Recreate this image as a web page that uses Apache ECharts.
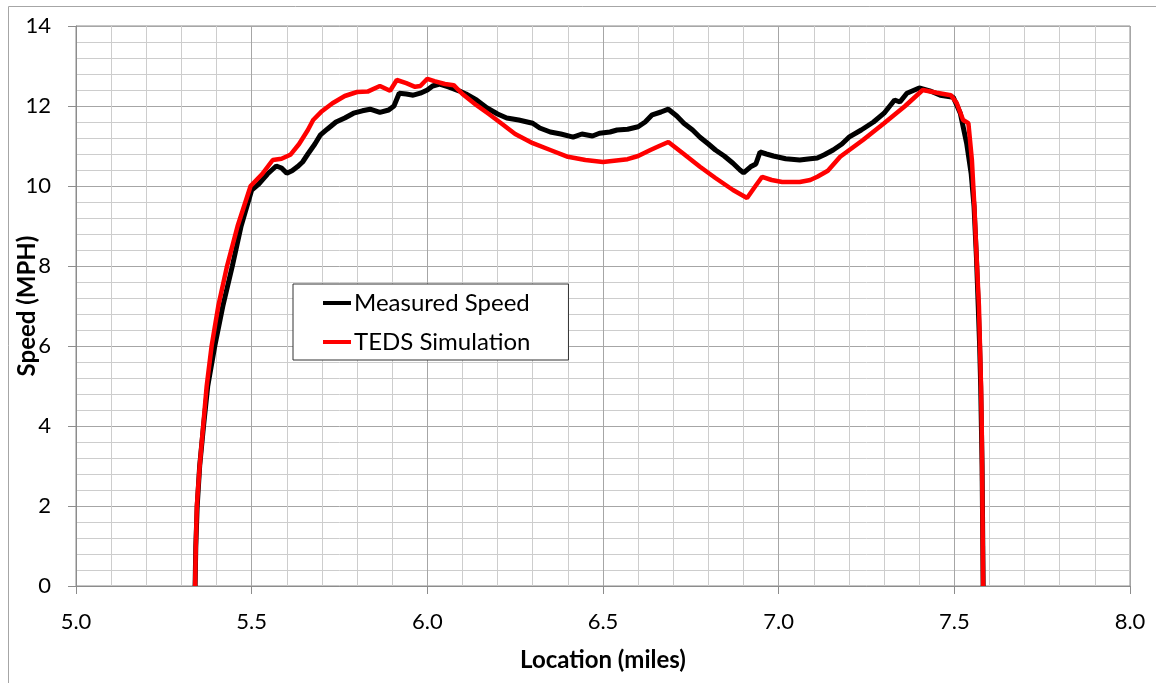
<!DOCTYPE html>
<html>
<head>
<meta charset="utf-8">
<script src="https://cdn.jsdelivr.net/npm/echarts@6/dist/echarts.min.js"></script>
<style>
html,body{margin:0;padding:0;background:#fff;}
#chart{width:1156px;height:683px;}
</style>
</head>
<body>
<div id="chart"></div>
<script>
var seriesNames = ['Measured Speed', 'TEDS Simulation'];
var xTicks = [5.0, 5.5, 6.0, 6.5, 7.0, 7.5, 8.0];
var yTicks = [0, 2, 4, 6, 8, 10, 12, 14];

var measuredLoc = [5.339,5.341,5.345,5.352,5.363,5.375,5.395,5.418,5.445,5.470,5.50,5.52,5.545,5.57,5.585,5.60,5.615,5.63,5.645,5.66,5.68,5.695,5.715,5.74,5.765,5.79,5.815,5.837,5.865,5.89,5.905,5.92,5.94,5.96,5.98,6.0,6.015,6.035,6.06,6.09,6.11,6.14,6.17,6.2,6.226,6.26,6.30,6.32,6.35,6.38,6.415,6.44,6.47,6.49,6.52,6.54,6.57,6.60,6.62,6.64,6.665,6.686,6.71,6.73,6.755,6.776,6.80,6.82,6.845,6.87,6.89,6.90,6.92,6.935,6.947,6.965,6.985,7.02,7.06,7.09,7.11,7.13,7.155,7.18,7.20,7.235,7.27,7.30,7.33,7.345,7.365,7.40,7.43,7.46,7.497,7.517,7.535,7.548,7.556,7.563,7.568,7.572,7.575,7.577,7.579,7.58,7.581,7.582];
var measuredSpeed = [0,1,2,3,4,5,6,7,8,9,9.9,10.05,10.3,10.5,10.45,10.32,10.38,10.48,10.6,10.8,11.05,11.27,11.42,11.6,11.7,11.82,11.88,11.92,11.84,11.9,12.0,12.32,12.3,12.27,12.32,12.4,12.5,12.55,12.48,12.38,12.3,12.15,11.95,11.8,11.7,11.65,11.57,11.45,11.35,11.3,11.22,11.3,11.25,11.32,11.35,11.4,11.42,11.48,11.6,11.78,11.85,11.92,11.75,11.57,11.4,11.22,11.05,10.9,10.75,10.57,10.4,10.33,10.48,10.55,10.85,10.8,10.75,10.68,10.65,10.68,10.7,10.78,10.9,11.05,11.22,11.4,11.6,11.82,12.15,12.1,12.32,12.45,12.38,12.27,12.22,11.82,11.07,10.3,9.5,8.2,7,6,5,4,3,2,1,0];

var simLoc = [5.339,5.341,5.344,5.352,5.362,5.372,5.386,5.405,5.43,5.46,5.497,5.53,5.56,5.585,5.61,5.635,5.66,5.675,5.70,5.73,5.765,5.80,5.83,5.865,5.894,5.913,5.94,5.965,5.98,6.0,6.02,6.05,6.075,6.10,6.14,6.175,6.21,6.25,6.30,6.35,6.40,6.45,6.50,6.57,6.60,6.635,6.66,6.686,6.73,6.776,6.82,6.87,6.91,6.93,6.953,6.98,7.01,7.06,7.09,7.11,7.14,7.175,7.24,7.30,7.36,7.41,7.45,7.49,7.507,7.525,7.54,7.55,7.557,7.564,7.57,7.573,7.576,7.578,7.579,7.58,7.581,7.582];
var simSpeed = [0,1,2,3,4,5,6,7,8,9,10,10.3,10.65,10.68,10.78,11.05,11.4,11.65,11.87,12.07,12.25,12.35,12.36,12.5,12.38,12.65,12.57,12.48,12.5,12.68,12.62,12.55,12.52,12.3,12.02,11.8,11.57,11.3,11.07,10.9,10.73,10.65,10.6,10.67,10.75,10.9,11.0,11.1,10.8,10.48,10.2,9.9,9.7,9.95,10.23,10.15,10.1,10.1,10.15,10.23,10.38,10.73,11.15,11.57,12.0,12.4,12.33,12.27,12.07,11.65,11.57,10.65,9.5,8.1,7,6,5,4,3,2,1,0];

function pairs(xs, ys){ return xs.map(function(x,i){ return [x, ys[i]]; }); }

var FONT = 'Lato, "Open Sans", sans-serif';
var chart = echarts.init(document.getElementById('chart'), null, {renderer:'canvas'});
chart.setOption({
  animation: false,
  backgroundColor: '#ffffff',
  graphic: [{
    type: 'rect', left: 6, top: 4, silent: true,
    shape: {x: 0, y: 0, width: 1200, height: 720},
    style: {fill: 'none', stroke: '#a6a6a6', lineWidth: 1}
  }],
  grid: {left: 76, right: 26, top: 26, bottom: 97, show: true, borderColor: '#8c8c8c', borderWidth: 1,
         containLabel: false, outerBoundsMode: 'none'},
  legend: {
    data: seriesNames.map(function(n){ return {name: n, icon: 'rect'}; }),
    orient: 'vertical', left: 293, top: 284,
    padding: [7, 38, 6, 30], itemGap: 15,
    itemWidth: 28, itemHeight: 4,
    backgroundColor: '#ffffff', borderColor: '#333333', borderWidth: 1,
    textStyle: {fontFamily: FONT, fontSize: 24, color: '#000', lineHeight: 24, padding: [0,0,0,-2]}
  },
  xAxis: {
    type: 'value', min: xTicks[0], max: xTicks[xTicks.length-1], interval: 0.5,
    name: 'Location (miles)', nameLocation: 'middle', nameGap: 62, nameMoveOverlap: false,
    nameTextStyle: {fontFamily: FONT, fontSize: 24, fontWeight: 'bold', color: '#000'},
    axisLine: {lineStyle: {color: '#8c8c8c', width: 1}},
    axisTick: {show: true, length: 8, lineStyle: {color: '#8c8c8c'}},
    axisLabel: {margin: 25, fontFamily: FONT, fontSize: 22, color: '#000', formatter: function(v){ return v.toFixed(1); }},
    splitLine: {show: true, lineStyle: {color: '#a6a6a6', width: 1}},
    minorTick: {show: false, splitNumber: 5},
    minorSplitLine: {show: true, lineStyle: {color: '#cdcdcd', width: 1}}
  },
  yAxis: {
    type: 'value', min: yTicks[0], max: yTicks[yTicks.length-1], interval: 2,
    name: 'Speed (MPH)', nameLocation: 'middle', nameGap: 37, nameMoveOverlap: false,
    nameTextStyle: {fontFamily: FONT, fontSize: 24, fontWeight: 'bold', color: '#000'},
    axisLine: {show: true, lineStyle: {color: '#8c8c8c', width: 1}},
    axisTick: {show: true, length: 8, lineStyle: {color: '#8c8c8c'}},
    axisLabel: {margin: 25, fontFamily: FONT, fontSize: 22, color: '#000'},
    splitLine: {show: true, lineStyle: {color: '#a6a6a6', width: 1}},
    minorTick: {show: false, splitNumber: 5},
    minorSplitLine: {show: true, lineStyle: {color: '#cdcdcd', width: 1}}
  },
  series: [
    {name: seriesNames[0], type: 'line', data: pairs(measuredLoc, measuredSpeed), showSymbol: false, symbol: 'none',
     color: '#000000', lineStyle: {color: '#000000', width: 5}, z: 2},
    {name: seriesNames[1], type: 'line', data: pairs(simLoc, simSpeed), showSymbol: false, symbol: 'none',
     color: '#ff0000', lineStyle: {color: '#ff0000', width: 4.5}, z: 3}
  ]
});
</script>
</body>
</html>
